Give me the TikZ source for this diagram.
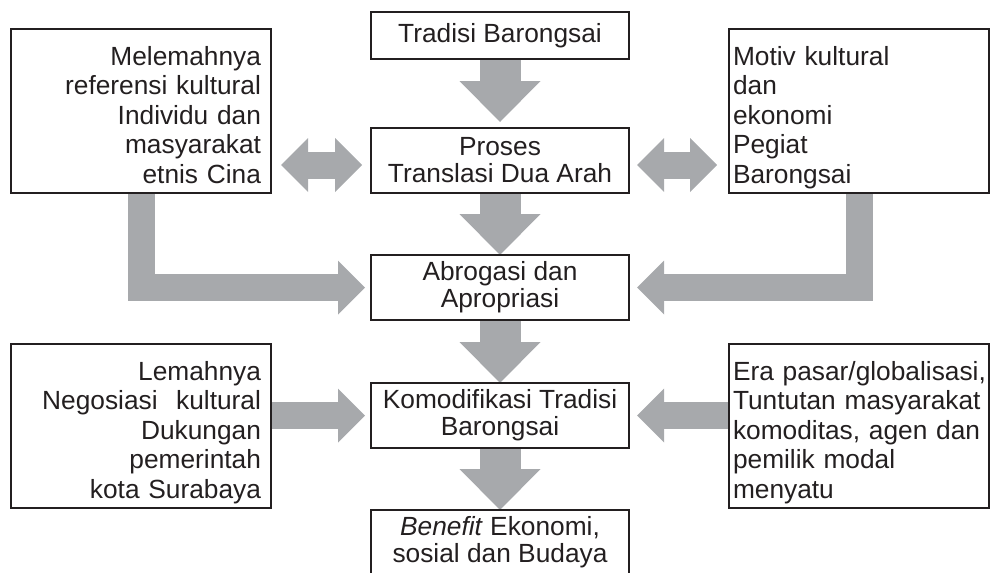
\documentclass[tikz,border=0pt]{standalone}
\usepackage{fontspec}
\setmainfont{Liberation Sans}
\usetikzlibrary{positioning, arrows.meta, backgrounds}
\definecolor{ink}{HTML}{231F20}
\definecolor{shade}{HTML}{A7A9AC}
\newcommand{\midfont}{\fontsize{26.3pt}{27pt}\selectfont}
\newcommand{\sidefont}{\fontsize{26.3pt}{29.6pt}\selectfont}

\begin{document}
\begin{tikzpicture}[x=1pt, y=-1pt,
	box/.style={draw=ink, line width=1.2pt, text=ink, inner sep=0pt, outer sep=0pt,
		minimum width=258pt, minimum height=65pt, align=center, font=\midfont},
	sidebox/.style={box, minimum width=260pt, minimum height=164pt,
		text height=19pt, text depth=111pt, font=\sidefont},
	leftbox/.style={sidebox, text width=240pt, inner xsep=10pt, align=right},
	rightbox/.style={sidebox, text width=252pt, inner xsep=4pt, align=left},
	downarrow/.style={draw=shade, line width=41pt,
		-{Triangle[length=41pt, width=81pt, line width'=0pt]}},
	sidearrow/.style={draw=shade, line width=27pt, line join=miter,
		-{Triangle[length=27pt, width=54pt, line width'=0pt]}},
	bothways/.style={sidearrow,
		{Triangle[length=27pt, width=54pt, line width'=0pt]}-{Triangle[length=27pt, width=54pt, line width'=0pt]}}
	]
	\useasboundingbox (0,0) rectangle (991,573);

	\node[box, minimum height=47pt] (trad) at (500,35.5) {Tradisi Barongsai};
	\node[box, below=69pt of trad] (proses) {Proses\\Translasi Dua Arah};
	\node[box, below=62pt of proses] (abrog) {Abrogasi dan\\Apropriasi};
	\node[box, below=63pt of abrog] (komod) {Komodifikasi Tradisi\\Barongsai};
	\node[box, below=62pt of komod] (benef) {\textit{Benefit} Ekonomi,\\sosial dan Budaya};

	\node[leftbox, left=100pt of proses.south west, anchor=south east] (melemah)
		{Melemahnya\\referensi kultural\\Individu dan\\masyarakat\\etnis Cina};
	\node[rightbox, right=100pt of proses.south east, anchor=south west] (motiv)
		{Motiv kultural\\dan\\ekonomi\\Pegiat\\Barongsai};
	\node[leftbox, below=151pt of melemah] (lemah)
		{Lemahnya\\Negosiasi\hspace{0.37em} kultural\\Dukungan\\pemerintah\\kota Surabaya};
	\node[rightbox, below=151pt of motiv] (era)
		{\mbox{Era pasar/globalisasi,}\\Tuntutan masyarakat\\komoditas, agen dan\\pemilik modal\\menyatu};

	\coordinate (midl) at ([yshift=-4.5pt]proses.west);
	\coordinate (midr) at ([yshift=-4.5pt]proses.east);

	\begin{scope}[on background layer]
		\draw[downarrow, shorten >=6pt] (trad) -- (proses);
		\draw[downarrow] (proses) -- (abrog);
		\draw[downarrow] (abrog) -- (komod);
		\draw[downarrow] (komod) -- (benef);

		\draw[bothways, shorten <=10pt, shorten >=9pt] (melemah.east |- midl) -- (midl);
		\draw[bothways, shorten <=8pt, shorten >=12pt] (midr) -- (motiv.west |- midr);

		\draw[sidearrow, shorten >=6pt] (melemah.south) |- (abrog.west);
		\draw[sidearrow, shorten >=8pt] (motiv.south) |- (abrog.east);

		\draw[sidearrow, shorten >=6pt] (lemah.east |- komod.west) -- (komod.west);
		\draw[sidearrow, shorten >=8pt] (era.west |- komod.east) -- (komod.east);
	\end{scope}
\end{tikzpicture}
\end{document}
